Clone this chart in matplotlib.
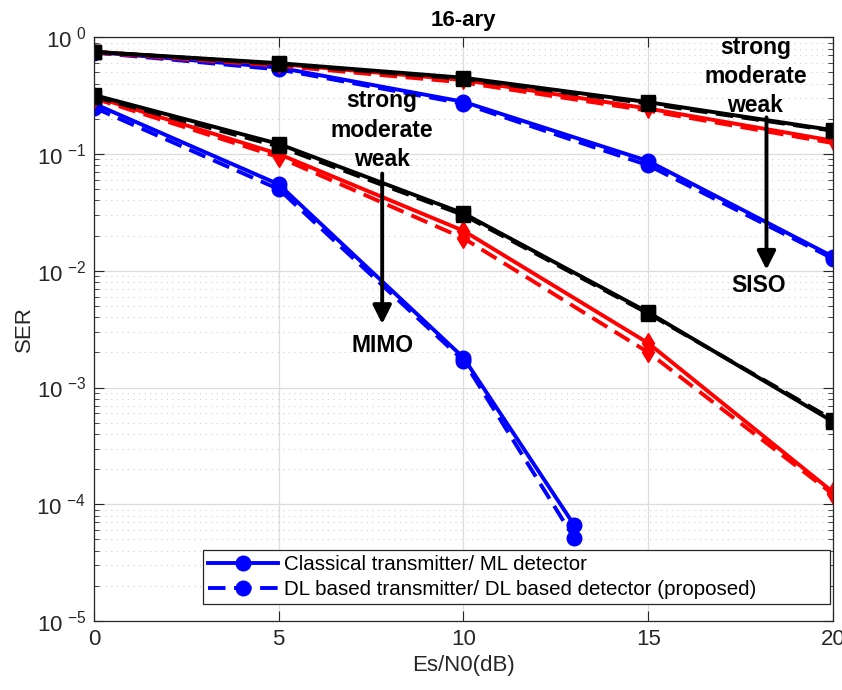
import matplotlib

matplotlib.use("Agg")

import matplotlib.pyplot as plt  # noqa: E402
import numpy as np  # noqa: E402
from matplotlib.ticker import LogLocator, FixedLocator, NullFormatter  # noqa: E402

plt.rcParams["font.family"] = ["Liberation Sans", "DejaVu Sans"]
plt.rcParams["mathtext.default"] = "regular"

# --- data ---
snr = [0, 5, 10, 15, 20]
snr_mimo_strong = [0, 5, 10, 13]

siso_strong_ml = [0.75, 0.55, 0.28, 0.087, 0.0132]
siso_strong_dl = [0.74, 0.53, 0.27, 0.080, 0.0127]
siso_moderate_ml = [0.75, 0.59, 0.43, 0.245, 0.130]
siso_moderate_dl = [0.74, 0.57, 0.41, 0.235, 0.124]
siso_weak_ml = [0.75, 0.60, 0.45, 0.278, 0.160]
siso_weak_dl = [0.75, 0.59, 0.44, 0.270, 0.158]

mimo_strong_ml = [0.27, 0.055, 0.0018, 6.6e-5]
mimo_strong_dl = [0.25, 0.050, 0.0017, 5.1e-5]
mimo_moderate_ml = [0.31, 0.100, 0.022, 0.0024, 1.27e-4]
mimo_moderate_dl = [0.30, 0.094, 0.019, 0.0020, 1.22e-4]
mimo_weak_ml = [0.32, 0.122, 0.031, 0.0044, 5.1e-4]
mimo_weak_dl = [0.31, 0.116, 0.030, 0.0043, 5.3e-4]

y_exponents = [-5, -4, -3, -2, -1, 0]
x_ticks = [0, 5, 10, 15, 20]

legend_labels = [
    "Classical transmitter/ ML detector",
    "DL based transmitter/ DL based detector (proposed)",
]

fig = plt.figure(figsize=(8.42, 6.9), dpi=100)
ax = fig.add_axes([0.1116, 0.1, 0.8777, 0.846])

lw = 2.8
ms = 10.5
kw = dict(linewidth=lw, markersize=ms, dashes=(4.5, 2.2))
kws = dict(linewidth=lw, markersize=ms)

h1, = ax.plot(snr_mimo_strong, mimo_strong_ml, "-o", color="blue", **kws)
h2, = ax.plot(snr_mimo_strong, mimo_strong_dl, "--o", color="blue", **kw)
ax.plot(snr, mimo_moderate_ml, "-d", color="red", **kws)
ax.plot(snr, mimo_moderate_dl, "--d", color="red", **kw)
ax.plot(snr, mimo_weak_ml, "-s", color="black", **kws)
ax.plot(snr, mimo_weak_dl, "--s", color="black", **kw)

ax.plot(snr, siso_strong_ml, "-o", color="blue", **kws)
ax.plot(snr, siso_strong_dl, "--o", color="blue", **kw)
ax.plot(snr, siso_moderate_ml, "-v", color="red", **kws)
ax.plot(snr, siso_moderate_dl, "--v", color="red", **kw)
ax.plot(snr, siso_weak_ml, "-s", color="black", **kws)
ax.plot(snr, siso_weak_dl, "--s", color="black", **kw)

ax.set_yscale("log")
ax.set_xlim(0, 20)
ax.set_ylim(1e-5, 1)
ax.xaxis.set_major_locator(FixedLocator(x_ticks))
ax.yaxis.set_major_locator(FixedLocator([10.0 ** e for e in y_exponents]))
ax.yaxis.set_minor_locator(LogLocator(base=10, subs=np.arange(2, 10), numticks=20))
ax.yaxis.set_minor_formatter(NullFormatter())
ax.set_yticklabels([r"$10^{\ {%d}}$" % e for e in y_exponents])

ax.grid(True, which="major", color="#dcdcdc", linewidth=0.9)
ax.grid(True, which="minor", axis="y", color="#cfcfcf", linestyle=(0, (1, 4)),
        linewidth=0.8)
ax.set_axisbelow(True)
ax.tick_params(which="both", direction="in", top=True, right=True,
               labelsize=16, colors="#262626")
ax.tick_params(which="major", length=7, pad=6)
ax.tick_params(which="minor", length=3.5)
for s in ax.spines.values():
    s.set_color("#262626")
    s.set_linewidth(0.9)

ax.set_xlabel("Es/N0(dB)", fontsize=16, color="#262626", labelpad=3)
ax.set_ylabel("SER", fontsize=16, color="#262626", labelpad=1)
ax.set_title("16-ary", fontsize=16, fontweight="bold", pad=8)

# annotations
txt = dict(fontsize=16.5, fontweight="bold", ha="center", va="center",
           linespacing=1.35)
ax.text(7.8, 0.16, "strong\nmoderate\nweak", **txt)
ax.annotate("", xy=(7.8, 0.0035), xytext=(7.8, 0.068),
            arrowprops=dict(arrowstyle="-|>", lw=2.8, color="black",
                            mutation_scale=28, shrinkA=0, shrinkB=0))
ax.text(7.8, 0.0023, "MIMO", **txt)

ax.text(17.9, 0.46, "strong\nmoderate\nweak", **txt)
ax.annotate("", xy=(18.2, 0.0102), xytext=(18.2, 0.206),
            arrowprops=dict(arrowstyle="-|>", lw=2.8, color="black",
                            mutation_scale=28, shrinkA=0, shrinkB=0))
ax.text(18.0, 0.0075, "SISO", **txt)

leg = ax.legend([h1, h2], legend_labels, loc="lower left",
                bbox_to_anchor=(0.1475, 0.029, 0.8485, 0.0976), mode="expand",
                fontsize=14.8, fancybox=False, framealpha=1,
                edgecolor="#262626", borderpad=0.25, handlelength=3.4,
                labelspacing=0.3, handletextpad=0.3, borderaxespad=0.0)
leg.get_frame().set_linewidth(0.9)

fig.savefig("out.png", dpi=100)
plt.close(fig)
